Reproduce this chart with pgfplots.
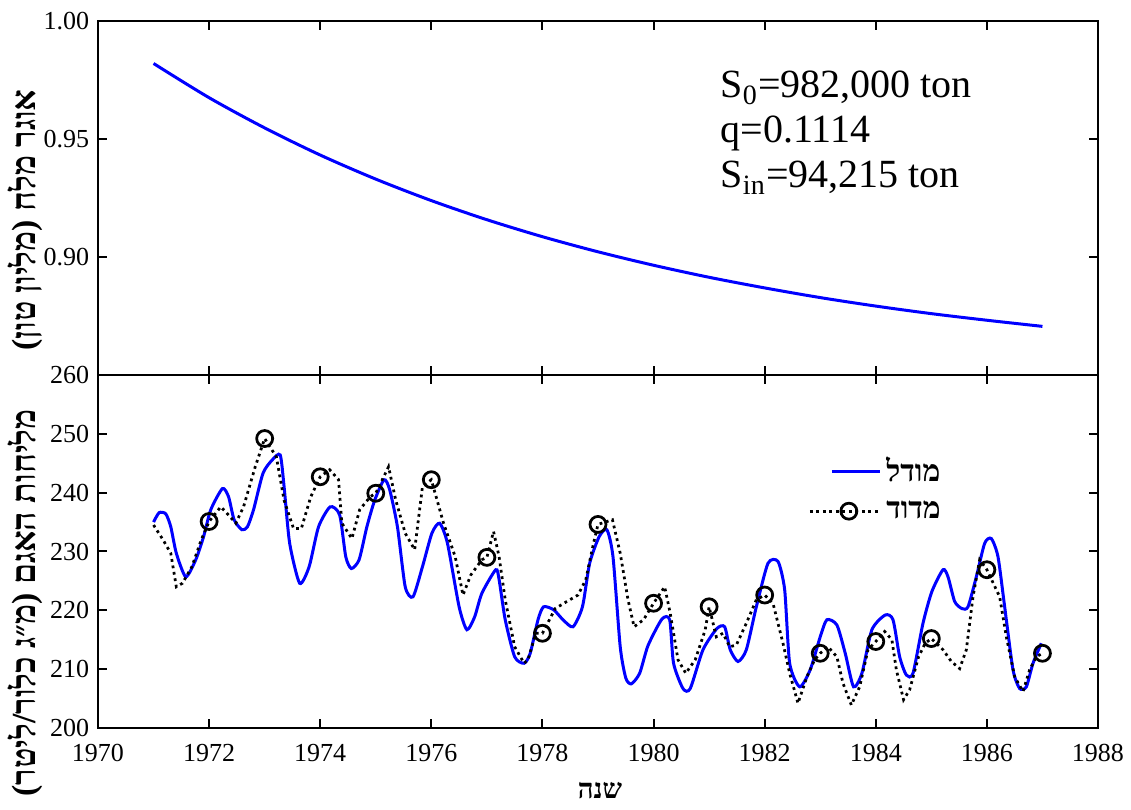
\documentclass[border=0pt]{standalone}
\usepackage{fontspec}
\setmainfont{Liberation Serif}
\newfontfamily\hebfont[Script=Hebrew]{Liberation Serif}
\usepackage{pgfplots}
\pgfplotsset{compat=1.18}
\TeXXeTstate=1

% salt reservoir (million ton), model
\pgfplotstableread{
year  s
1971 0.9820
1972 0.9675
1973 0.9547
1974 0.9432
1975 0.9330
1976 0.9239
1977 0.9158
1978 0.9086
1979 0.9022
1980 0.8965
1981 0.8914
1982 0.8869
1983 0.8828
1984 0.8792
1985 0.8760
1986 0.8732
1987 0.8706
}\storage

% lake salinity, model (mg Cl/l)
\pgfplotstableread{
year c
1971.00 235.0
1971.10 236.6
1971.22 236.4
1971.31 234.2
1971.41 229.7
1971.58 225.7
1971.76 228.6
1971.90 232.5
1972.03 237.1
1972.24 240.7
1972.35 239.3
1972.45 235.4
1972.59 233.7
1972.69 234.2
1972.80 237.1
1972.97 243.3
1973.14 245.6
1973.28 246.4
1973.35 241.0
1973.45 231.4
1973.63 224.6
1973.80 227.4
1973.97 234.2
1974.18 237.6
1974.35 236.2
1974.46 229.1
1974.56 227.1
1974.70 228.6
1974.84 234.2
1974.98 238.7
1975.15 242.2
1975.25 240.5
1975.39 234.2
1975.53 224.0
1975.67 222.3
1975.84 227.4
1976.01 233.1
1976.15 234.8
1976.29 231.4
1976.50 220.6
1976.64 216.7
1976.78 218.9
1976.91 222.9
1977.16 226.9
1977.22 225.2
1977.33 218.4
1977.50 212.1
1977.67 211.0
1977.78 212.7
1977.92 218.4
1978.02 220.6
1978.20 220.1
1978.37 218.4
1978.55 217.2
1978.72 220.6
1978.85 228.0
1979.02 232.5
1979.16 233.7
1979.27 229.1
1979.40 213.8
1979.50 208.5
1979.60 207.5
1979.75 209.3
1979.90 214.0
1980.15 218.5
1980.29 218.4
1980.36 211.0
1980.53 206.7
1980.66 206.7
1980.89 213.3
1981.14 216.9
1981.28 217.2
1981.38 213.3
1981.52 211.3
1981.67 213.3
1981.85 220.6
1982.06 228.0
1982.24 228.3
1982.36 223.5
1982.45 211.0
1982.63 207.0
1982.82 209.9
1983.00 215.5
1983.12 218.4
1983.30 217.5
1983.45 212.7
1983.60 207.0
1983.75 209.3
1983.93 216.7
1984.17 219.2
1984.31 218.4
1984.43 212.1
1984.55 209.0
1984.67 209.3
1984.85 217.8
1985.01 223.2
1985.21 226.9
1985.30 225.7
1985.42 221.5
1985.55 220.3
1985.66 220.6
1985.81 225.7
1985.96 231.4
1986.08 232.2
1986.20 229.1
1986.32 220.6
1986.47 209.9
1986.59 206.7
1986.71 207.0
1986.83 211.0
1986.98 214.4
}\model

% lake salinity, measured
\pgfplotstableread{
year c
1971.00 234.5
1971.17 232.0
1971.31 229.7
1971.41 224.0
1971.52 224.6
1971.69 227.4
1971.86 232.0
1972.00 235.1
1972.21 237.6
1972.35 236.2
1972.48 234.8
1972.62 237.6
1972.83 244.4
1973.00 249.2
1973.21 246.1
1973.35 238.7
1973.52 233.9
1973.66 233.9
1973.83 239.3
1974.00 242.7
1974.17 243.9
1974.33 242.2
1974.39 234.8
1974.57 232.2
1974.71 237.1
1974.90 239.3
1975.00 239.9
1975.23 244.4
1975.36 238.7
1975.53 233.1
1975.70 230.3
1975.84 241.0
1976.00 242.2
1976.22 234.8
1976.43 229.1
1976.57 222.6
1976.71 226.0
1976.91 228.6
1977.00 229.0
1977.12 233.4
1977.22 229.1
1977.33 221.8
1977.50 213.8
1977.67 211.0
1977.74 211.6
1977.88 216.1
1978.00 216.1
1978.23 220.3
1978.44 221.5
1978.64 222.6
1978.78 225.2
1978.92 231.4
1979.00 234.6
1979.26 235.4
1979.40 229.7
1979.54 221.8
1979.65 217.2
1979.82 218.4
1980.00 221.2
1980.20 224.0
1980.30 219.5
1980.44 211.6
1980.58 209.3
1980.75 211.6
1980.93 216.7
1981.00 220.6
1981.13 215.5
1981.25 216.1
1981.37 213.8
1981.49 214.1
1981.67 217.8
1981.85 221.8
1982.00 222.6
1982.15 221.2
1982.33 214.4
1982.45 209.3
1982.60 204.2
1982.76 208.7
1982.90 211.6
1983.00 212.7
1983.14 213.8
1983.30 212.1
1983.41 207.6
1983.56 203.9
1983.71 207.0
1983.86 213.3
1984.00 214.7
1984.16 216.4
1984.29 215.0
1984.37 209.9
1984.50 204.8
1984.61 206.5
1984.77 212.1
1984.89 214.4
1985.00 215.2
1985.21 213.3
1985.36 211.3
1985.51 210.1
1985.63 213.3
1985.75 222.3
1985.87 228.6
1986.00 226.9
1986.23 222.3
1986.35 215.5
1986.50 208.7
1986.65 206.2
1986.77 209.9
1986.89 212.1
1987.00 212.7
}\measured

% yearly sampled points (circles)
\pgfplotstableread{
year c
1972 235.1
1973 249.2
1974 242.7
1975 239.9
1976 242.2
1977 229.0
1978 216.1
1979 234.6
1980 221.2
1981 220.6
1982 222.6
1983 212.7
1984 214.7
1985 215.2
1986 226.9
1987 212.7
}\yearly

\pgfplotsset{
  panel/.style={
    scale only axis, width=400pt,
    xmin=1970, xmax=1988,
    xtick={1970,1972,...,1988},
    tick align=inside, major tick length=3.6pt,
    axis line style={line width=0.8pt},
    every tick/.style={black, line width=0.8pt},
    tick label style={font=\fontsize{10.4}{12}\selectfont},
    /pgf/number format/assume math mode=true,
    x tick label style={/pgf/number format/1000 sep={}, yshift=-3pt},
    label style={font=\fontsize{13.5}{15}\selectfont\hebfont\bfseries},
  },
}

\begin{document}
\begin{tikzpicture}
\begin{axis}[panel, name=top,
  height=141.6pt,
  ymin=0.85, ymax=1.00,
  ytick={0.90,0.95,1.00},
  xticklabels={},
  y tick label style={/pgf/number format/.cd, fixed, fixed zerofill, precision=2},
  ylabel={\beginR אוגר מלח (מליון טון)\endR},
  ylabel style={at={(axis description cs:-0.073,0.438)}, anchor=center},
]
\addplot[blue, line width=1.2pt, smooth] table[x=year, y=s] {\storage};
\node[anchor=north west, align=left, inner sep=0pt,
      font=\fontsize{16}{18}\selectfont] at (axis cs:1981.2,0.979)
  {S\textsubscript{0}=982,000 ton\\q=0.1114\\S\textsubscript{in}=94,215 ton};
\end{axis}

\begin{axis}[panel, name=bot,
  at={(top.south west)}, anchor=north west,
  height=141.2pt,
  ymin=200, ymax=260,
  ytick={200,210,...,260},
  ylabel={\beginR מליחות האגם (מ״ג כלור/ליטר)\endR},
  ylabel style={at={(axis description cs:-0.073,0.354)}, anchor=center},
  xlabel={\beginR שנה\endR},
  xlabel style={at={(axis description cs:0.502,-0.176)}, anchor=center,
    font=\fontsize{11}{13}\selectfont\hebfont\bfseries},
  legend style={draw=none, fill=none, at={(axis description cs:0.71,0.783)},
    anchor=north west, inner sep=0pt,
    font=\fontsize{12}{14}\selectfont\hebfont\bfseries, row sep=2pt,
    nodes={inner sep=2pt}},
  legend cell align=left,
]
\addplot[blue, line width=1.2pt, smooth, tension=0.4,
  legend image code/.code={\draw[blue, line width=1.2pt] (8.8pt,0pt) -- (28pt,0pt);}]
  table[x=year, y=c] {\model};
\addlegendentry{\beginR מודל\endR}
\addplot[black, line width=1.1pt, dash pattern=on 1.1pt off 1.5pt, forget plot]
  table[x=year, y=c] {\measured};
\addplot[black, only marks, mark=o, mark size=3.2pt, mark options={line width=1.1pt},
  legend image code/.code={
    \draw[black, line width=1.1pt, dash pattern=on 1.1pt off 1.5pt] (0pt,0pt) -- (28pt,0pt);
    \draw[black, line width=1.1pt] (15.6pt,0pt) circle (3.2pt);}]
  table[x=year, y=c] {\yearly};
\addlegendentry{\beginR מדוד\endR}
\end{axis}

\pgfresetboundingbox
\path[use as bounding box] ([xshift=-39.2pt,yshift=8.4pt]top.north west)
  rectangle ([xshift=13.2pt,yshift=-32.8pt]bot.south east);
\end{tikzpicture}
\end{document}
